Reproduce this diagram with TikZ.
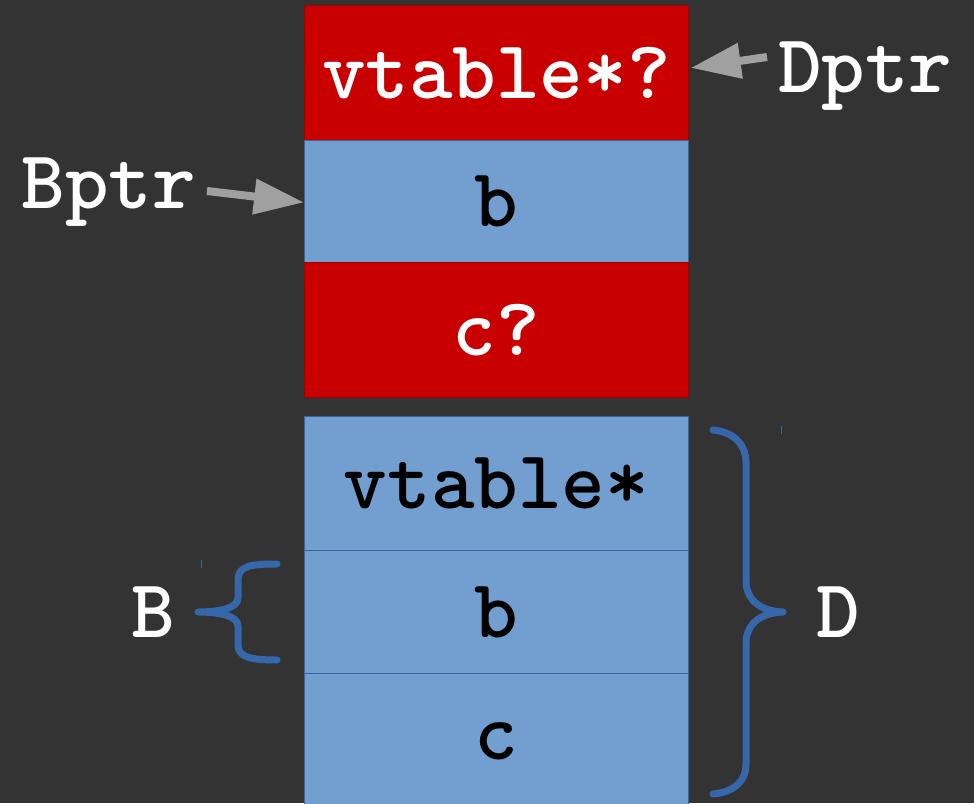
\documentclass[tikz,border=0pt]{standalone}
\usepackage{fontspec}
\usetikzlibrary{arrows.meta,calc}
\definecolor{bg}{HTML}{333333}
\definecolor{cellred}{HTML}{C80000}
\definecolor{cellredline}{HTML}{A00000}
\definecolor{cellblue}{HTML}{729FCF}
\definecolor{cellblueline}{HTML}{3465A4}
\definecolor{bracecol}{HTML}{3567AA}
\definecolor{ptrgray}{HTML}{A0A0A0}
\tikzset{
  cell/.style={rectangle, inner sep=0pt, minimum width=384pt, anchor=north west,
    font=\fontsize{83}{90}\selectfont\ttfamily\bfseries, line width=0.8pt},
  redcell/.style={cell, fill=cellred, draw=cellredline, text=white},
  bluecell/.style={cell, fill=cellblue, draw=cellblueline, text=black},
  lbl/.style={inner sep=0pt, text=white, font=\fontsize{83}{90}\selectfont\ttfamily\bfseries},
  ptr/.style={draw=ptrgray, line width=8pt, -{Triangle[length=50pt,width=34pt,fill=ptrgray]}, shorten >=0pt},
  brace/.style={draw=bracecol, line width=7pt, line cap=round, line join=round},
  tick/.style={draw=bracecol, line width=1pt}
}
\begin{document}
\begin{tikzpicture}[x=1pt,y=-1pt]
  \fill[bg] (0,0) rectangle (974,803);
  \useasboundingbox (0,0) rectangle (974,803);

  % upper object
  \node[redcell, minimum height=135pt] (r1) at (304,5) {vtable*?};
  \node[bluecell, minimum height=122pt] (r2) at (304,140) {b};
  \node[redcell, minimum height=135pt] (r3) at (304,262) {c?};

  % lower object
  \node[bluecell, minimum height=134pt] (s1) at (304,416) {vtable*};
  \node[bluecell, minimum height=123pt] (s2) at (304,550) {b};
  \node[bluecell, minimum height=136pt] (s3) at (304,673) {c};

  % pointer labels
  \node[lbl, anchor=west] (dptr) at (778,76) {Dptr};
  \node[lbl, anchor=east] (bptr) at (196,192) {Bptr};
  \draw[ptr] ([shift={(-11,-19)}]dptr.west) -- ([shift={(2,-5)}]r1.east);
  \draw[ptr] ([shift={(11,-1)}]bptr.east) -- ([shift={(0,1)}]r2.west);

  % brace labels
  \node[lbl] (blab) at (153,612) {B};
  \node[lbl] (dlab) at (838,612) {D};

  % brace around the base part
  \coordinate (btip) at (198,612);
  \draw[brace] (277,564) .. controls (250,564) and (238,566) .. (238,580)
    -- (238,598) .. controls (238,608) and (220,612) .. (btip)
    .. controls (220,612) and (238,616) .. (238,626)
    -- (238,645) .. controls (238,657) and (250,660) .. (277,660);

  % brace around the whole derived object
  \coordinate (dtip) at (783,612);
  \draw[brace] (713,430) .. controls (735,432) and (746,446) .. (746,462)
    -- (746,580) .. controls (746,600) and (760,611) .. (dtip)
    .. controls (760,613) and (746,624) .. (746,644)
    -- (746,765) .. controls (746,780) and (735,792) .. (713,794);

  % small handle marks
  \draw[tick] (201,560) -- (201,568);
  \draw[tick] (781,426) -- (781,434);
\end{tikzpicture}
\end{document}
